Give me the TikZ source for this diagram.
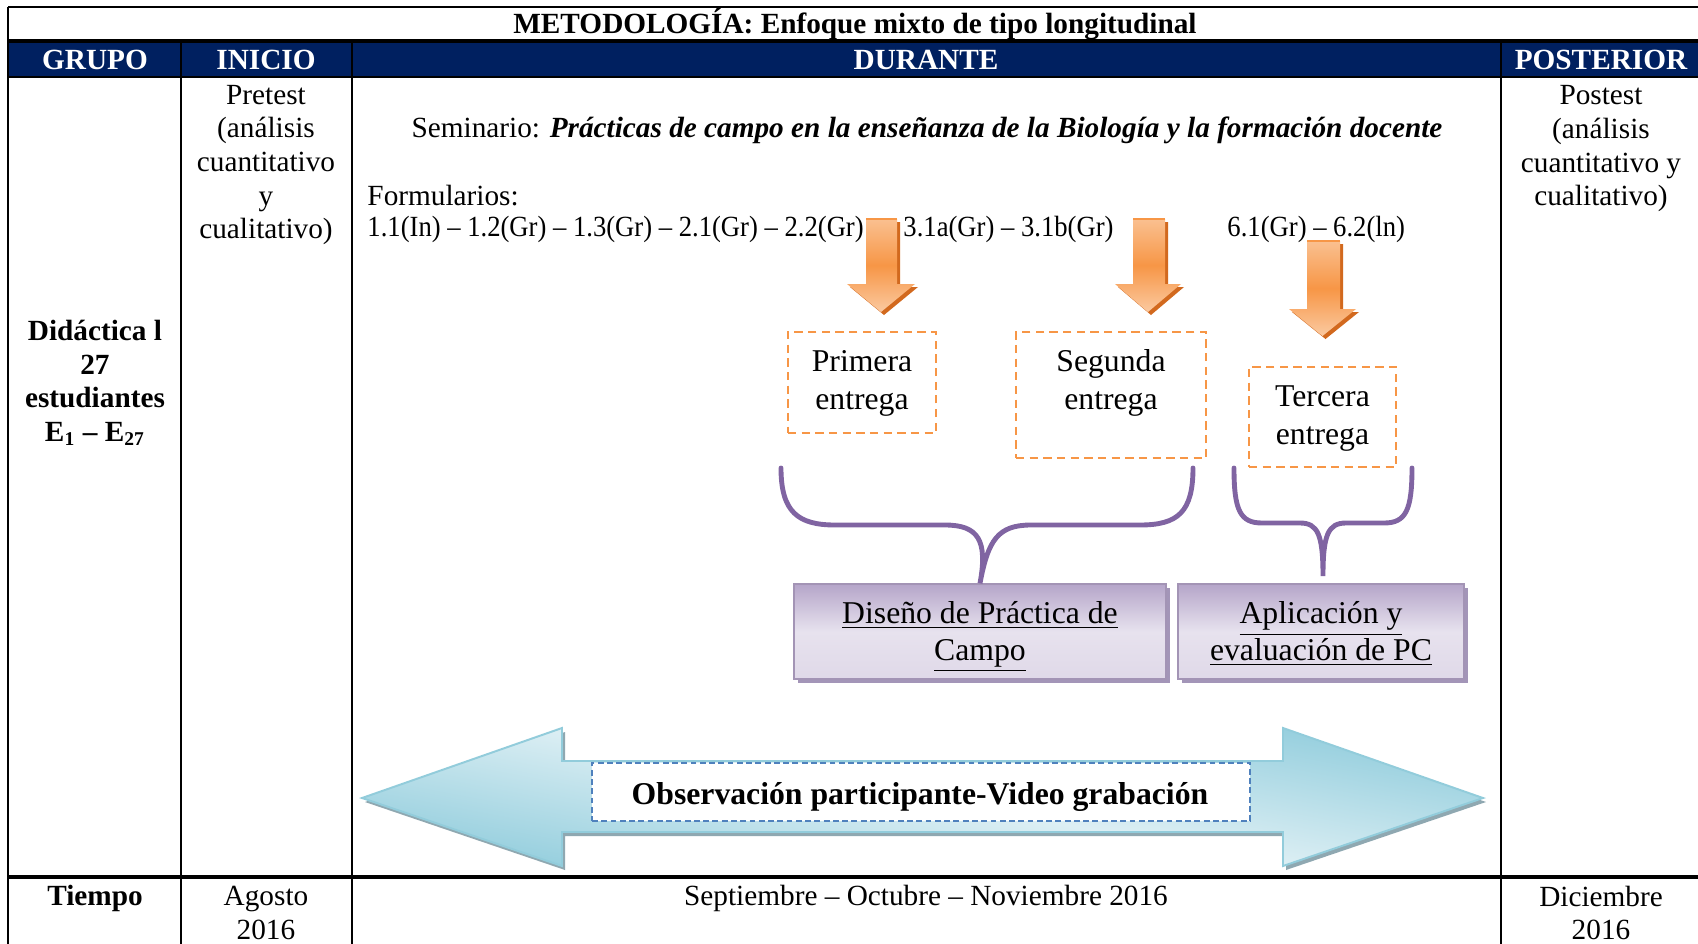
\documentclass[tikz,border=0pt]{standalone}
\usepackage{fontspec}
\setmainfont{Liberation Serif}
\newfontfamily\narrowserif[FakeStretch=0.91]{Liberation Serif}
\usetikzlibrary{shadows}
\definecolor{navy}{HTML}{002060}
\definecolor{orL}{HTML}{FAC090}
\definecolor{orM}{HTML}{F79646}
\definecolor{orD}{HTML}{D2691E}
\definecolor{brc}{HTML}{8064A2}
\definecolor{puD}{HTML}{B5A5C9}
\definecolor{puL}{HTML}{E7E2EE}
\definecolor{puS}{HTML}{A395B8}
\definecolor{blD}{HTML}{96CFDE}
\definecolor{blL}{HTML}{DDEFF4}
\definecolor{blE}{HTML}{92CCDB}
\definecolor{blS}{HTML}{8FA8B1}
\definecolor{dashblue}{HTML}{4F81BD}

% block arrow pointing down: shaft x1,x2; top y; head y; head x-left, x-right; tip y
\newcommand\blockdown[7]{%
  \fill[orD, shift={(3,3)}] (#1,#3) -- (#2,#3) -- (#2,#4) -- (#6,#4) -- ({(#5+#6)/2},#7) -- (#5,#4) -- (#1,#4) -- cycle;
  \shade[top color=orL, bottom color=orL!85!white, middle color=orM]
    (#1,#3) -- (#2,#3) -- (#2,#4) -- (#6,#4) -- ({(#5+#6)/2},#7) -- (#5,#4) -- (#1,#4) -- cycle;
  \draw[orM, line width=0.5pt] (#1,#3) -- (#2,#3);}

\begin{document}
\begin{tikzpicture}[x=0.41pt,y=-0.41pt,
  every node/.style={inner sep=0pt, font=\fontsize{12}{13.8}\selectfont},
  tline/.style={black, line width=0.9pt},
  thick line/.style={black, line width=1.3pt},
  headtext/.style={text=white, font=\fontsize{12}{13.8}\selectfont\bfseries},
  celltext/.style={align=center},
  formtext/.style={anchor=west, font=\fontsize{12}{13.8}\narrowserif},
  obox/.style={draw=orM, dash pattern=on 3.4pt off 2.2pt, line width=1pt},
  boxtext/.style={align=center, font=\fontsize{13}{15.6}\selectfont},
  pbox/.style={draw=puD!90!black, line width=0.5pt, top color=puD, bottom color=puL!85!puD, middle color=puL,
    drop shadow={shadow xshift=1.6pt, shadow yshift=-1.6pt, fill=puS, opacity=1}},
  ptext/.style={align=center, font=\fontsize{13}{15.2}\selectfont},
  brace/.style={brc, line width=2pt, line cap=round}]

\useasboundingbox (0,0) rectangle (1698,944);
\fill[white] (0,0) rectangle (1698,944);

% ---------- table frame ----------
\fill[navy] (8,41) rectangle (1698,77);
\draw[tline] (8,7) -- (1698,7);
\draw[thick line] (8,41) -- (1698,41);
\draw[tline] (8,77) -- (1698,77);
\draw[thick line] (8,877) -- (1698,877);
\draw[tline] (8,7) -- (8,944);
\draw[tline] (181,41) -- (181,944);
\draw[tline] (352,41) -- (352,944);
\draw[tline] (1501,41) -- (1501,944);

% ---------- title and header row ----------
\node[font=\fontsize{12}{13.8}\selectfont\bfseries] (title) at (855,24) {METODOLOGÍA: Enfoque mixto de tipo longitudinal};
\node[headtext] (hgrupo) at (95,60) {GRUPO};
\node[headtext] (hinicio) at (266,60) {INICIO};
\node[headtext] (hdurante) at (926,60) {DURANTE};
\node[headtext] (hposterior) at (1601,60) {POSTERIOR};

% ---------- body row ----------
\node[celltext, font=\fontsize{12}{13.8}\selectfont\bfseries] (grupo) at (95,383)
  {Didáctica l\\27\\estudiantes\\E\textsubscript{1} – E\textsubscript{27}};
\node[celltext] (pretest) at (266,165) {Pretest\\(análisis\\cuantitativo\\y\\cualitativo)};
\node[celltext] (postest) at (1601,149) {Postest\\(análisis\\cuantitativo y\\cualitativo)};

\node (seminario) at (927,130) {Seminario: \textbf{\textit{Prácticas de campo en la enseñanza de la Biología y la formación docente}}};
\node[anchor=west] (formularios) at (367,196) {Formularios:};
\node[formtext] (f1) at (367,229) {1.1(In) – 1.2(Gr) – 1.3(Gr) – 2.1(Gr) – 2.2(Gr)};
\node[formtext] (f2) at (903,229) {3.1a(Gr) – 3.1b(Gr)};
\node[formtext] (f3) at (1227,229) {6.1(Gr) – 6.2(ln)};

% ---------- orange block arrows ----------
\blockdown{866}{897}{219}{284}{847}{915}{312}
\blockdown{1133}{1165}{219}{284}{1115}{1181}{312}
\blockdown{1307}{1340}{241}{309}{1289}{1356}{336}

% ---------- dashed deliveries ----------
\node[obox, minimum width=60.7pt, minimum height=41.4pt] (b1) at (862,382.5) {};
\node[boxtext] (t1) at (862,383) {Primera\\entrega};
\node[obox, minimum width=77.9pt, minimum height=51.7pt] (b2) at (1111,395) {};
\node[boxtext] (t2) at (1111,383) {Segunda\\entrega};
\node[obox, minimum width=60.3pt, minimum height=41pt] (b3) at (1322.5,417) {};
\node[boxtext] (t3) at (1322.5,419) {Tercera\\entrega};

% ---------- purple result boxes ----------
\node[pbox, minimum width=152.5pt, minimum height=39pt] (dpc) at (980,631.5) {};
\node[ptext] (dpct) at (980,637) {\underline{Diseño de Práctica de}\\\underline{Campo}};
\node[pbox, minimum width=117.3pt, minimum height=39pt] (apc) at (1321,631.5) {};
\node[ptext] (apct) at (1321,634) {\underline{Aplicación y}\\\underline{evaluación de PC}};

% ---------- braces ----------
\draw[brace] (781,468) .. controls (781,512) and (798,525) .. (835,525) -- (945,525)
  .. controls (978,525) and (988,540) .. (dpc.north)
  .. controls (988,540) and (998,525) .. (1031,525) -- (1140,525)
  .. controls (1178,525) and (1193,512) .. (1193,468);
\draw[brace] (1234,468) .. controls (1234,510) and (1240,523) .. (1262,523) -- (1300,523)
  .. controls (1318,523) and (1323,535) .. (1323,576)
  .. controls (1323,535) and (1328,523) .. (1346,523) -- (1384,523)
  .. controls (1406,523) and (1412,510) .. (1412,468);

% ---------- double arrow: observation ----------
\fill[blS, shift={(3,4)}] (362,798) -- (562,728) -- (562,761) -- (1283,761) -- (1283,728) -- (1483,798)
  -- (1283,866) -- (1283,832) -- (562,832) -- (562,866) -- cycle;
\begin{scope}
  \clip (362,798) -- (562,728) -- (562,761) -- (1283,761) -- (1283,728) -- (1483,798)
    -- (1283,866) -- (1283,832) -- (562,832) -- (562,866) -- cycle;
  \fill[white] (300,700) rectangle (1550,900);
  \begin{scope}[transform canvas={rotate around={-10.8:(922.5,797)}}]
    \shade[top color=blD, bottom color=blD, middle color=blL] (200,659) rectangle (1645,935);
  \end{scope}
\end{scope}
\draw[blE, line width=0.8pt, line join=miter]
  (362,798) -- (562,728) -- (562,761) -- (1283,761) -- (1283,728) -- (1483,798)
  -- (1283,866) -- (1283,832) -- (562,832) -- (562,866) -- cycle;
\node[fill=white, draw=dashblue, dash pattern=on 2.4pt off 1.4pt, line width=0.9pt,
  minimum width=269.8pt, minimum height=23.8pt] (obsbox) at (921,792) {};
\node[font=\fontsize{13}{15}\selectfont\bfseries] (obs) at (920,797) {Observación participante-Video grabación};

% ---------- time row ----------
\node[font=\fontsize{12}{13.8}\selectfont\bfseries] (tiempo) at (95,898) {Tiempo};
\node[celltext] (agosto) at (266,913) {Agosto\\2016};
\node (meses) at (926,898) {Septiembre – Octubre – Noviembre 2016};
\node[celltext] (diciembre) at (1601,913) {Diciembre\\2016};

\end{tikzpicture}
\end{document}
